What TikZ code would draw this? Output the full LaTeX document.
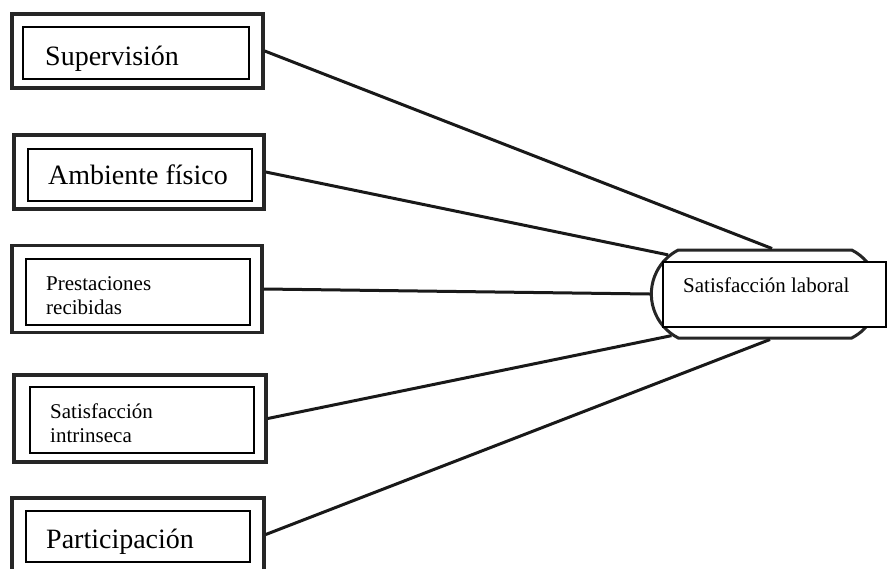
\documentclass[tikz,border=0pt]{standalone}
\usepackage{fontspec}
\setmainfont{Liberation Serif}
\usetikzlibrary{shapes.misc}

\begin{document}
\begin{tikzpicture}[x=1pt, y=-1pt,
  outbox/.style={draw=black!85, line width=3.5pt, fill=white},
  inbox/.style={draw, line width=1.4pt},
  bigtext/.style={anchor=base west, inner sep=0pt, font=\fontsize{28}{34}\selectfont},
  smalltext/.style={anchor=base west, inner sep=0pt, align=left, font=\fontsize{21}{23.5}\selectfont},
  link/.style={draw=black!90, line width=3pt}]
\useasboundingbox (0,0) rectangle (888,568);
\clip (0,0) rectangle (888,568);

% factors on the left
\node[outbox, minimum width=251, minimum height=74] (sup) at (137.5,51) {};
\node[inbox, minimum width=226, minimum height=52] (supin) at (136,53) {};
\node[bigtext] (suptxt) at (45,65) {Supervisión};

\node[outbox, minimum width=250, minimum height=74] (amb) at (139,172) {};
\node[inbox, minimum width=224, minimum height=52] (ambin) at (140,175) {};
\node[bigtext] (ambtxt) at (48,184) {Ambiente físico};

\node[outbox, minimum width=250, minimum height=87] (pre) at (137,289) {};
\node[inbox, minimum width=224, minimum height=66] (prein) at (138,292) {};
\node[smalltext] (pretxt) at (46,314) {Prestaciones\\recibidas};

\node[outbox, minimum width=252, minimum height=87] (intr) at (140,418.5) {};
\node[inbox, minimum width=224, minimum height=66] (intrin) at (142,420) {};
\node[smalltext] (intrtxt) at (50,442) {Satisfacción\\intrinseca};

\node[outbox, minimum width=252, minimum height=73] (par) at (138,534.5) {};
\node[inbox, minimum width=224, minimum height=51] (parin) at (138,536.5) {};
\node[bigtext] (partxt) at (46,548) {Participación};

% result on the right
\node[rounded rectangle, rounded rectangle arc length=126,
  draw=black!85, line width=3pt, fill=white,
  minimum width=234, minimum height=88] (sat) at (765,294) {};
\node[draw, line width=2pt, fill=white, minimum width=223, minimum height=65] (satin) at (774.5,294.5) {};
\node[smalltext] (sattxt) at (683,292) {Satisfacción laboral};

% connectors
\draw[link] (sup.east) -- ([xshift=7pt]sat.north);
\draw[link] (amb.east) -- (sat.158);
\draw[link] (pre.east) -- (sat.west);
\draw[link] (intr.east) -- (sat.204);
\draw[link] (par.east) -- ([xshift=5pt]sat.south);
\end{tikzpicture}
\end{document}
